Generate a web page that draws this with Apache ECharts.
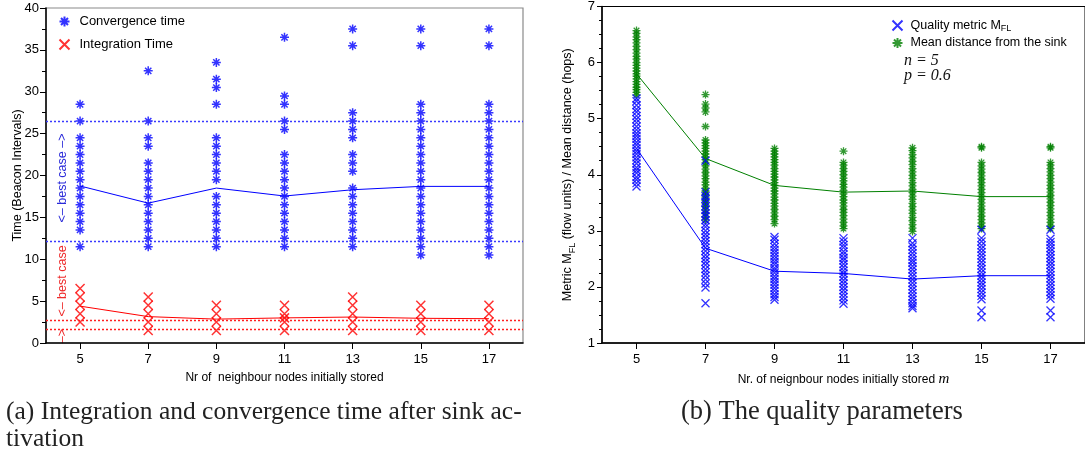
<!DOCTYPE html>
<html>
<head>
<meta charset="utf-8">
<script src="https://cdn.jsdelivr.net/npm/echarts@6/dist/echarts.min.js"></script>
<style>
  html, body { margin: 0; padding: 0; background: #ffffff; }
  #chart { width: 1085px; height: 460px; }
</style>
</head>
<body>
<div id="chart"></div>
<script>
// Number of neighbour nodes initially stored (x categories, both panels)
const neighbours = [5, 7, 9, 11, 13, 15, 17];

// Panel (a): convergence time samples per neighbour count (beacon intervals)
const convergenceTimes = [
  [28.5, 26.5, 24.5, 23.5, 22.5, 21.5, 20.5, 19.5, 18.5, 17.5, 16.5, 15.5, 14.5, 13.5, 11.5],
  [32.5, 26.5, 24.5, 23.5, 21.5, 20.5, 19.5, 18.5, 17.5, 16.5, 15.5, 14.5, 13.5, 12.5, 11.5],
  [33.5, 31.5, 30.5, 28.5, 24.5, 23.5, 22.5, 21.5, 20.5, 19.5, 17.5, 16.5, 15.5, 14.5, 13.5, 12.5, 11.5],
  [36.5, 29.5, 28.5, 26.5, 25.5, 22.5, 21.5, 20.5, 19.5, 18.5, 17.5, 16.5, 15.5, 14.5, 13.5, 12.5, 11.5],
  [37.5, 35.5, 27.5, 26.5, 25.5, 24.5, 22.5, 21.5, 20.5, 18.5, 17.5, 16.5, 15.5, 14.5, 13.5, 12.5, 11.5],
  [37.5, 35.5, 28.5, 27.5, 26.5, 25.5, 24.5, 23.5, 22.5, 21.5, 20.5, 19.5, 18.5, 17.5, 16.5, 15.5, 14.5, 13.5, 12.5, 11.5, 10.5],
  [37.5, 35.5, 28.5, 27.5, 26.5, 25.5, 24.5, 23.5, 22.5, 21.5, 20.5, 19.5, 18.5, 17.5, 16.5, 15.5, 14.5, 13.5, 12.5, 11.5, 10.5]
];
const convergenceMean = [18.75, 16.7, 18.5, 17.55, 18.3, 18.7, 18.7];

// Panel (a): integration time samples per neighbour count
const integrationTimes = [
  [6.5, 5.5, 4.5, 3.5, 2.5],
  [5.5, 4.5, 3.5, 2.5, 1.5],
  [4.5, 3.5, 2.5, 1.5],
  [4.5, 3.5, 3.0, 2.5, 1.5],
  [5.5, 4.5, 3.5, 2.5, 1.5],
  [4.5, 3.5, 2.5, 1.5],
  [4.5, 3.5, 2.5, 1.5]
];
const integrationMean = [4.4, 3.15, 2.85, 3.0, 3.1, 2.95, 2.9];

// Best-case reference levels
const convergenceBestCase = [26.5, 12.1];
const integrationBestCase = [2.7, 1.6];

// Panel (b): quality metric M_FL samples (flow units)
const qualityMetric = [
  [5.36, 5.31, 5.24, 5.17, 5.12, 5.05, 4.99, 4.93, 4.86, 4.8, 4.74, 4.69, 4.64, 4.58, 4.53, 4.47, 4.42, 4.37, 4.31, 4.26, 4.2, 4.13, 4.08, 4.03, 3.96, 3.91, 3.85, 3.79],
  [4.25, 3.69, 3.62, 3.57, 3.51, 3.44, 3.37, 3.31, 3.26, 3.19, 3.12, 3.07, 3.0, 2.94, 2.88, 2.82, 2.76, 2.7, 2.64, 2.57, 2.51, 2.45, 2.39, 2.32, 2.26, 2.2, 2.13, 2.06, 1.99, 1.71],
  [2.89, 2.84, 2.77, 2.71, 2.66, 2.61, 2.55, 2.5, 2.45, 2.4, 2.34, 2.3, 2.25, 2.19, 2.14, 2.09, 2.04, 1.98, 1.93, 1.87, 1.82, 1.77],
  [2.87, 2.81, 2.75, 2.7, 2.63, 2.58, 2.52, 2.47, 2.41, 2.35, 2.29, 2.24, 2.18, 2.12, 2.06, 2.0, 1.94, 1.88, 1.82, 1.76, 1.7],
  [2.87, 2.78, 2.72, 2.66, 2.6, 2.54, 2.48, 2.43, 2.37, 2.31, 2.25, 2.19, 2.13, 2.07, 2.01, 1.95, 1.89, 1.83, 1.77, 1.71, 1.66, 1.62],
  [3.02, 2.87, 2.81, 2.74, 2.68, 2.62, 2.56, 2.5, 2.44, 2.38, 2.32, 2.26, 2.2, 2.14, 2.08, 2.02, 1.96, 1.9, 1.84, 1.78, 1.58, 1.46],
  [3.02, 2.86, 2.8, 2.75, 2.69, 2.63, 2.57, 2.51, 2.45, 2.39, 2.33, 2.27, 2.21, 2.15, 2.09, 2.03, 1.97, 1.91, 1.85, 1.79, 1.58, 1.46]
];
const qualityMean = [4.47, 2.69, 2.28, 2.24, 2.14, 2.2, 2.2];

// Panel (b): mean distance from the sink samples (hops)
const meanDistance = [
  [6.57, 6.52, 6.46, 6.41, 6.35, 6.29, 6.23, 6.17, 6.11, 6.06, 6.0, 5.95, 5.9, 5.85, 5.8, 5.76, 5.71, 5.66, 5.61, 5.56, 5.52, 5.47, 5.42],
  [5.43, 5.26, 5.19, 5.12, 4.86, 4.62, 4.57, 4.52, 4.47, 4.42, 4.37, 4.32, 4.27, 4.21, 4.16, 4.1, 4.04, 3.98, 3.93, 3.87, 3.82, 3.76, 3.71, 3.65, 3.6, 3.54, 3.48, 3.43, 3.37, 3.31, 3.25, 3.19],
  [4.47, 4.42, 4.37, 4.32, 4.27, 4.22, 4.17, 4.11, 4.06, 4.01, 3.96, 3.91, 3.86, 3.81, 3.76, 3.71, 3.66, 3.6, 3.55, 3.49, 3.44, 3.38, 3.32, 3.26, 3.2, 3.13],
  [4.42, 4.22, 4.17, 4.11, 4.06, 4.0, 3.94, 3.89, 3.83, 3.78, 3.72, 3.66, 3.61, 3.55, 3.5, 3.44, 3.38, 3.33, 3.27, 3.21, 3.15, 3.09, 3.04],
  [4.48, 4.43, 4.36, 4.3, 4.24, 4.18, 4.11, 4.05, 3.99, 3.93, 3.86, 3.8, 3.74, 3.68, 3.62, 3.56, 3.49, 3.43, 3.37, 3.31, 3.24, 3.18, 3.11, 3.05, 2.99],
  [4.5, 4.48, 4.22, 4.16, 4.1, 4.04, 3.98, 3.92, 3.86, 3.8, 3.74, 3.68, 3.62, 3.56, 3.5, 3.44, 3.38, 3.32, 3.26, 3.2, 3.14, 3.08, 3.04],
  [4.5, 4.48, 4.22, 4.17, 4.11, 4.05, 3.99, 3.93, 3.87, 3.81, 3.75, 3.69, 3.63, 3.57, 3.51, 3.45, 3.39, 3.33, 3.27, 3.21, 3.15, 3.09, 3.04]
];
const distanceMean = [5.8, 4.29, 3.81, 3.69, 3.71, 3.61, 3.61];

// Stroke-only marker shapes
const asteriskPath = 'path://M0,5L10,5M5,0L5,10M1.5,1.5L8.5,8.5M8.5,1.5L1.5,8.5';
const crossPath = 'path://M0,0L10,10M10,0L0,10';

const sansFont = '"Liberation Sans", Arial, Helvetica, sans-serif';
const serifFont = '"Liberation Serif", "Times New Roman", serif';

function samplesToPoints(groups) {
  const pts = [];
  groups.forEach((vals, i) => vals.forEach(v => pts.push([neighbours[i], v])));
  return pts;
}
function meanToPoints(means) {
  return means.map((v, i) => [neighbours[i], v]);
}
function levelLines(levels, color) {
  return levels.map(v => ({ yAxis: v, lineStyle: { color: color, type: [2, 2], width: 1.3 } }));
}

function xAxisFor(gridIndex, name) {
  return {
    gridIndex: gridIndex, type: 'value', min: 4, max: 18,
    axisLine: { show: true, onZero: false, lineStyle: { color: '#000', width: 1.5 } },
    axisTick: { show: true, customValues: neighbours, length: 6, lineStyle: { color: '#000', width: 1 } },
    axisLabel: { customValues: neighbours, color: '#000', fontSize: 13, fontFamily: sansFont, margin: 10 },
    splitLine: { show: false },
    name: name, nameLocation: 'middle', nameGap: 29,
    nameTextStyle: {
      color: '#000', fontSize: 12, fontFamily: sansFont,
      rich: { i: { fontFamily: serifFont, fontStyle: 'italic', fontSize: 15, color: '#000' } }
    }
  };
}

const option = {
  backgroundColor: '#ffffff',
  animation: false,
  grid: [
    { left: 46, top: 8, width: 477, height: 335, show: true, borderColor: '#8a8a8a', borderWidth: 1.2, backgroundColor: 'transparent' },
    { left: 602, top: 2, width: 485, height: 341, show: true, borderColor: '#000', borderWidth: 1, backgroundColor: 'transparent' }
  ],
  xAxis: [
    xAxisFor(0, 'Nr of  neighbour nodes initially stored'),
    xAxisFor(1, 'Nr. of neignbour nodes initially stored {i|m}')
  ],
  yAxis: [
    {
      gridIndex: 0, type: 'value', min: 0, max: 40, interval: 5,
      axisLine: { show: true, lineStyle: { color: '#000', width: 1.5 } },
      axisTick: { show: true, length: 6, lineStyle: { color: '#000' } },
      minorTick: { show: true, splitNumber: 2, length: 4, lineStyle: { color: '#000' } },
      axisLabel: { color: '#000', fontSize: 13, fontFamily: sansFont, margin: 7 },
      splitLine: { show: false },
      name: 'Time (Beacon Intervals)', nameLocation: 'middle', nameGap: 22, nameMoveOverlap: false,
      nameTextStyle: { color: '#000', fontSize: 12.5, fontFamily: sansFont }
    },
    {
      gridIndex: 1, type: 'value', min: 1, max: 7, interval: 1,
      axisLine: { show: true, lineStyle: { color: '#000', width: 1.5 } },
      axisTick: { show: true, length: 5, lineStyle: { color: '#000' } },
      minorTick: { show: true, splitNumber: 4, length: 3, lineStyle: { color: '#000' } },
      axisLabel: { color: '#000', fontSize: 13, fontFamily: sansFont, margin: 7 },
      splitLine: { show: false },
      name: '{a|Metric M}{s|FL}{a| (flow units) / Mean distance (hops)}',
      nameLocation: 'middle', nameGap: 25,
      nameTextStyle: {
        color: '#000', fontSize: 12.5, fontFamily: sansFont,
        rich: {
          a: { fontSize: 12.5, fontFamily: sansFont, color: '#000', lineHeight: 18, verticalAlign: 'middle' },
          s: { fontSize: 9, fontFamily: sansFont, color: '#000', lineHeight: 8, verticalAlign: 'bottom' }
        }
      }
    }
  ],
  legend: [
    {
      data: ['Convergence time', 'Integration Time'],
      orient: 'vertical', left: 52, top: 9, itemWidth: 10, itemHeight: 10, itemGap: 8,
      textStyle: { color: '#000', fontSize: 13, fontFamily: sansFont, padding: [0, 0, 0, 5] },
      selectedMode: false
    },
    {
      data: ['Quality metric MFL', 'Mean distance from the sink'],
      orient: 'vertical', left: 885, top: 13, itemWidth: 10, itemHeight: 10, itemGap: 2,
      formatter: function (name) {
        return name === 'Quality metric MFL' ? '{a|Quality metric M}{s|FL}' : '{a|' + name + '}';
      },
      textStyle: {
        color: '#000', fontSize: 12.5, fontFamily: sansFont, padding: [0, 0, 0, 3],
        rich: {
          a: { fontSize: 12.5, fontFamily: sansFont, color: '#000', lineHeight: 16, verticalAlign: 'middle' },
          s: { fontSize: 9, fontFamily: sansFont, color: '#000', lineHeight: 6, verticalAlign: 'bottom' }
        }
      },
      selectedMode: false
    }
  ],
  title: [
    {
      text: '(a) Integration and convergence time after sink ac-\ntivation',
      left: 1, top: 394,
      textStyle: { fontFamily: serifFont, fontWeight: 'normal', fontSize: 25.5, lineHeight: 27, color: '#222' }
    },
    {
      text: '(b) The quality parameters',
      left: 676, top: 394,
      textStyle: { fontFamily: serifFont, fontWeight: 'normal', fontSize: 26.5, lineHeight: 27, color: '#222' }
    }
  ],
  graphic: [
    { type: 'text', x: 63, y: 178, rotation: Math.PI / 2, silent: true,
      style: { text: '<\u2013 best case \u2013>', fill: '#2b2bd9', font: '12.5px ' + sansFont, align: 'center', verticalAlign: 'middle' } },
    { type: 'text', x: 63, y: 281, rotation: Math.PI / 2, silent: true,
      style: { text: '<\u2013 best case', fill: '#ee2b2b', font: '12.5px ' + sansFont, align: 'center', verticalAlign: 'middle' } },
    { type: 'text', x: 63, y: 336, rotation: Math.PI / 2, silent: true,
      style: { text: '\u2013>', fill: '#ee2b2b', font: '12.5px ' + sansFont, align: 'center', verticalAlign: 'middle' } },
    { type: 'text', x: 904, y: 61, silent: true,
      style: { text: 'n = 5', fill: '#111', font: 'italic 16px ' + serifFont, align: 'left', verticalAlign: 'middle' } },
    { type: 'text', x: 904, y: 76, silent: true,
      style: { text: 'p = 0.6', fill: '#111', font: 'italic 16px ' + serifFont, align: 'left', verticalAlign: 'middle' } }
  ],
  series: [
    {
      name: 'Convergence time', type: 'scatter', xAxisIndex: 0, yAxisIndex: 0,
      symbol: asteriskPath, symbolSize: 9,
      itemStyle: { color: 'none', borderColor: '#0000ff', borderWidth: 1.5 },
      data: samplesToPoints(convergenceTimes),
      markLine: {
        silent: true, symbol: 'none', label: { show: false },
        data: levelLines(convergenceBestCase, '#3a3aff')
      },
      z: 3
    },
    {
      name: 'Integration Time', type: 'scatter', xAxisIndex: 0, yAxisIndex: 0,
      symbol: crossPath, symbolSize: 9,
      itemStyle: { color: 'none', borderColor: '#ff0000', borderWidth: 1.5 },
      data: samplesToPoints(integrationTimes),
      markLine: {
        silent: true, symbol: 'none', label: { show: false },
        data: levelLines(integrationBestCase, '#ff2020')
      },
      z: 3
    },
    {
      name: 'Convergence mean', type: 'line', xAxisIndex: 0, yAxisIndex: 0,
      symbol: 'none', lineStyle: { color: '#0000ff', width: 1 },
      data: meanToPoints(convergenceMean), z: 4
    },
    {
      name: 'Integration mean', type: 'line', xAxisIndex: 0, yAxisIndex: 0,
      symbol: 'none', lineStyle: { color: '#ff0000', width: 1 },
      data: meanToPoints(integrationMean), z: 4
    },
    {
      name: 'Mean distance from the sink', type: 'scatter', xAxisIndex: 1, yAxisIndex: 1,
      symbol: asteriskPath, symbolSize: 8,
      itemStyle: { color: 'none', borderColor: '#008000', borderWidth: 1.3 },
      data: samplesToPoints(meanDistance), z: 2
    },
    {
      name: 'Quality metric MFL', type: 'scatter', xAxisIndex: 1, yAxisIndex: 1,
      symbol: crossPath, symbolSize: 8,
      itemStyle: { color: 'none', borderColor: '#0000ff', borderWidth: 1.3 },
      data: samplesToPoints(qualityMetric), z: 3
    },
    {
      name: 'Distance mean', type: 'line', xAxisIndex: 1, yAxisIndex: 1,
      symbol: 'none', lineStyle: { color: '#008000', width: 1 },
      data: meanToPoints(distanceMean), z: 4
    },
    {
      name: 'Quality mean', type: 'line', xAxisIndex: 1, yAxisIndex: 1,
      symbol: 'none', lineStyle: { color: '#0000ff', width: 1 },
      data: meanToPoints(qualityMean), z: 4
    }
  ]
};

const chart = echarts.init(document.getElementById('chart'), null, { renderer: 'canvas' });
chart.setOption(option);
</script>
</body>
</html>
